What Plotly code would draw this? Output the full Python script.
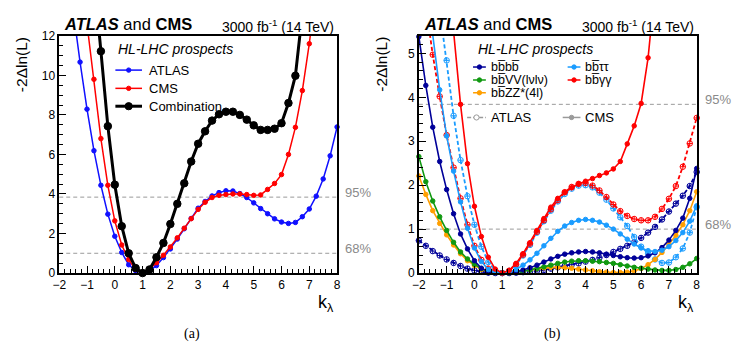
import plotly.graph_objects as go

W, H = 748, 354

K = [-2.0, -1.75, -1.5, -1.25, -1.0, -0.75, -0.5, -0.25, 0.0, 0.25, 0.5, 0.75, 1.0,
     1.25, 1.5, 1.75, 2.0, 2.25, 2.5, 2.75, 3.0, 3.25, 3.5, 3.75, 4.0, 4.25, 4.5,
     4.75, 5.0, 5.25, 5.5, 5.75, 6.0, 6.25, 6.5, 6.75, 7.0, 7.25, 7.5, 7.75, 8.0]

# panel (a): combined likelihood scans
ATLAS = [20.5, 16.6, 13.3, 10.67, 8.29, 6.19, 4.44, 2.98, 1.86, 1.04, 0.42, 0.12, 0.0,
         0.1, 0.38, 0.78, 1.22, 1.72, 2.24, 2.76, 3.28, 3.62, 3.9, 4.07, 4.16, 4.15, 4.02,
         3.82, 3.55, 3.26, 3.0, 2.74, 2.58, 2.51, 2.56, 2.85, 3.24, 3.89, 4.76, 5.93, 7.39]
CMS = [27.0, 23.0, 19.3, 15.8, 12.6, 9.8, 6.8, 4.44, 2.64, 1.42, 0.68, 0.18, 0.0,
       0.2, 0.52, 0.9, 1.32, 1.78, 2.27, 2.75, 3.22, 3.58, 3.82, 3.93, 3.97, 4.0, 4.0,
       3.97, 3.93, 3.95, 4.23, 4.53, 4.98, 6.0, 7.37, 9.23, 11.6, 14.2, 17.0, 20.0, 23.2]
COMBINATION = [34.0, 30.0, 26.0, 22.5, 19.0, 15.0, 11.22, 7.43, 4.47, 2.37, 1.0, 0.25, 0.0,
               0.18, 0.8, 1.52, 2.48, 3.5, 4.54, 5.64, 6.54, 7.17, 7.71, 8.03, 8.16, 8.16, 8.0,
               7.76, 7.47, 7.24, 7.24, 7.3, 7.58, 8.6, 9.98, 12.6, 15.5, 18.6, 22.0, 25.5, 29.0]

# panel (b): per-channel scans
CMS_4B = [5.38, 4.27, 3.32, 2.54, 1.9, 1.35, 0.89, 0.55, 0.28, 0.11, 0.03, 0.005, 0.0,
          0.01, 0.03, 0.07, 0.12, 0.18, 0.25, 0.32, 0.38, 0.43, 0.46, 0.48, 0.49, 0.48, 0.46,
          0.43, 0.4, 0.37, 0.35, 0.34, 0.35, 0.39, 0.46, 0.58, 0.75, 0.97, 1.25, 1.7, 2.38]
ATLAS_4B = [0.74, 0.62, 0.5, 0.4, 0.31, 0.23, 0.16, 0.1, 0.06, 0.03, 0.01, 0.0, 0.0,
            0.0, 0.01, 0.02, 0.03, 0.05, 0.07, 0.1, 0.13, 0.16, 0.19, 0.22, 0.26, 0.3, 0.35,
            0.41, 0.48, 0.55, 0.62, 0.7, 0.8, 0.92, 1.05, 1.22, 1.4, 1.58, 1.76, 1.98, 2.3]
CMS_TT = [7.9, 6.6, 5.42, 4.17, 3.12, 2.32, 1.62, 1.02, 0.57, 0.26, 0.08, 0.01, 0.0,
          0.02, 0.08, 0.18, 0.3, 0.45, 0.62, 0.79, 0.95, 1.07, 1.15, 1.2, 1.22, 1.2, 1.16,
          1.09, 1.0, 0.89, 0.77, 0.66, 0.57, 0.51, 0.49, 0.52, 0.6, 0.74, 0.92, 1.18, 1.53]
ATLAS_TT = [10.5, 8.8, 7.3, 6.0, 4.84, 3.58, 2.57, 1.75, 1.1, 0.6, 0.25, 0.06, 0.0,
            0.05, 0.18, 0.4, 0.64, 0.92, 1.18, 1.42, 1.63, 1.8, 1.92, 1.99, 2.0, 1.95, 1.83,
            1.67, 1.47, 1.27, 1.07, 0.82, 0.6, 0.45, 0.31, 0.23, 0.24, 0.36, 0.56, 0.92, 1.5]
CMS_VV = [2.65, 2.08, 1.64, 1.28, 0.97, 0.7, 0.48, 0.32, 0.2, 0.1, 0.04, 0.01, 0.0,
          0.005, 0.02, 0.04, 0.07, 0.1, 0.14, 0.18, 0.22, 0.25, 0.27, 0.28, 0.28, 0.27, 0.26,
          0.24, 0.22, 0.19, 0.16, 0.13, 0.11, 0.09, 0.07, 0.06, 0.06, 0.08, 0.13, 0.21, 0.33]
CMS_ZZ = [2.21, 1.79, 1.42, 1.13, 0.87, 0.64, 0.44, 0.28, 0.17, 0.08, 0.03, 0.01, 0.0,
          0.01, 0.03, 0.05, 0.08, 0.1, 0.12, 0.13, 0.13, 0.12, 0.11, 0.09, 0.07, 0.05, 0.03,
          0.02, 0.01, 0.01, 0.02, 0.05, 0.1, 0.19, 0.31, 0.47, 0.65, 0.86, 1.1, 1.42, 1.85]
CMS_GG = [14.0, 12.4, 10.8, 9.2, 7.4, 5.5, 3.84, 2.49, 1.52, 0.83, 0.36, 0.09, 0.0,
          0.06, 0.22, 0.44, 0.69, 0.97, 1.24, 1.5, 1.7, 1.84, 1.94, 2.03, 2.09, 2.15, 2.22,
          2.28, 2.37, 2.54, 2.94, 3.35, 3.86, 4.9, 6.5, 8.5, 11.0, 14.0, 17.5, 21.0, 25.0]
ATLAS_GG = [7.2, 6.05, 4.97, 4.02, 3.14, 2.4, 1.7, 1.1, 0.62, 0.3, 0.1, 0.02, 0.0,
            0.05, 0.2, 0.42, 0.67, 0.94, 1.2, 1.45, 1.66, 1.84, 1.96, 2.03, 2.05, 1.99, 1.88,
            1.73, 1.56, 1.41, 1.3, 1.23, 1.2, 1.2, 1.28, 1.46, 1.69, 1.98, 2.42, 2.95, 3.53]

CL_LEVELS = [3.84, 1.0]
CL_LABELS = ["95%", "68%"]

YMAX_A, YMAX_B = 12, 5.4

FONT = "Liberation Sans, Arial, Helvetica, sans-serif"
BLUE, RED, BLACK = "#1010ff", "#ff0000", "#000000"
NAVY, SKY, GREEN, ORANGE = "#000099", "#1a9cff", "#119911", "#ff9f00"
GREY = "#9a9a9a"
SHORT_DASH = "4px,2.5px"


def px(x):
    return x / W


def py(y):
    return 1 - y / H


fig = go.Figure()


def add_scan(y, color, ymax, xa, ya, width=1.5, dash="solid", symbol="circle", size=4.5):
    # line through every point (clipped by the axes), markers only where in range
    fig.add_trace(go.Scatter(x=K, y=y, mode="lines", xaxis=xa, yaxis=ya, showlegend=False,
                             line=dict(color=color, width=width, dash=dash), hoverinfo="skip"))
    shown = [v if v <= ymax else None for v in y]
    fig.add_trace(go.Scatter(x=K, y=shown, mode="markers", xaxis=xa, yaxis=ya, showlegend=False,
                             cliponaxis=False, hoverinfo="skip",
                             marker=dict(color=color, size=size, symbol=symbol,
                                         line=dict(color=color, width=1))))


add_scan(ATLAS, BLUE, YMAX_A, "x", "y")
add_scan(CMS, RED, YMAX_A, "x", "y")
add_scan(COMBINATION, BLACK, YMAX_A, "x", "y", width=3, size=7.5)

for series, color in ((ATLAS_4B, NAVY), (ATLAS_TT, SKY), (ATLAS_GG, RED)):
    add_scan(series, color, YMAX_B, "x2", "y2", width=1.8, dash=SHORT_DASH,
             symbol="circle-cross-open", size=5.5)
for series, color in ((CMS_ZZ, ORANGE), (CMS_VV, GREEN), (CMS_4B, NAVY), (CMS_TT, SKY), (CMS_GG, RED)):
    add_scan(series, color, YMAX_B, "x2", "y2", width=1.6, size=4.5)

axis_common = dict(showline=True, linecolor="black", linewidth=1.5, mirror=True,
                   showgrid=False, zeroline=False, ticks="inside", ticklen=7,
                   tickcolor="black", tickwidth=1, tickfont=dict(size=12, color="black"))
x_common = dict(axis_common, range=[-2, 8], dtick=1, tick0=-2,
                minor=dict(dtick=0.2, ticks="inside", ticklen=4, tickcolor="black"))

Y0, Y1 = py(277), py(30)
fig.update_layout(
    width=W, height=H,
    paper_bgcolor="white", plot_bgcolor="white",
    margin=dict(l=0, r=0, t=0, b=0),
    font=dict(family=FONT, color="black", size=12),
    showlegend=False,
    xaxis=dict(x_common, domain=[px(53), px(335)], anchor="y"),
    yaxis=dict(axis_common, domain=[Y0, Y1], range=[0, YMAX_A], dtick=2, anchor="x",
               minor=dict(dtick=0.5, ticks="inside", ticklen=4, tickcolor="black")),
    xaxis2=dict(x_common, domain=[px(418), px(700)], anchor="y2"),
    yaxis2=dict(axis_common, domain=[Y0, Y1], range=[0, YMAX_B], dtick=1, anchor="x2",
                minor=dict(dtick=0.2, ticks="inside", ticklen=4, tickcolor="black")),
)

# confidence-level reference lines
for xd, yr, lab_x in (("x domain", "y", 341), ("x2 domain", "y2", 706)):
    for lvl, lab in zip(CL_LEVELS, CL_LABELS):
        fig.add_shape(type="line", xref=xd, yref=yr, x0=0, x1=1, y0=lvl, y1=lvl,
                      line=dict(color=GREY, width=1, dash="4px,3px"), layer="below")
        fig.add_annotation(text=lab, xref="paper", yref=yr, x=px(lab_x), y=lvl, yshift=5,
                           xanchor="left", yanchor="middle", showarrow=False,
                           font=dict(size=13, color="#8a8a8a"))


def text(s, x, y, size=13, anchor="left", angle=0, yanchor="middle", family=FONT):
    fig.add_annotation(text=s, xref="paper", yref="paper", x=px(x), y=py(y), xanchor=anchor,
                       yanchor=yanchor, textangle=angle, showarrow=False,
                       font=dict(size=size, family=family, color="black"))


def entry(x0, x1, y, color, label, tx, width=1.5, dash="solid", r=2.2, filled=True, size=13):
    fig.add_shape(type="line", xref="paper", yref="paper", x0=px(x0), x1=px(x1),
                  y0=py(y), y1=py(y), line=dict(color=color, width=width, dash=dash))
    fig.add_shape(type="circle", xref="paper", yref="paper", xsizemode="pixel", ysizemode="pixel",
                  xanchor=px((x0 + x1) / 2), yanchor=py(y), x0=-r, x1=r, y0=-r, y1=r,
                  fillcolor=color if filled else "white", line=dict(color=color, width=1))
    text(label, tx, y, size=size)


for off in (0, 365):
    text("<b><i>ATLAS</i></b> and <b>CMS</b>", 56 + off, 17.5, size=16.5)
    text("3000 fb<sup>-1</sup> (14 TeV)", 334 + off, 19.5, size=14, anchor="right")
    text("-2Δln(L)", 15 + off, 29, size=15.5, angle=-90, anchor="center", yanchor="top")
    text("k<sub>λ</sub>", 334 + off, 309, size=18, anchor="right")
    text("<i>HL-LHC prospects</i>", 111 + off, 43.5, size=14)

text("(a)", 188, 340, size=14, anchor="center", family="Liberation Serif, Times New Roman, serif")
text("(b)", 554, 340, size=14, anchor="center", family="Liberation Serif, Times New Roman, serif")

# legend (a)
entry(110, 137, 65.7, BLUE, "ATLAS", 142.5)
entry(110, 137, 84.7, RED, "CMS", 142.5)
entry(110, 137, 103.3, BLACK, "Combination", 142.5, width=3, r=3.6)

# legend (b)
OB = "b\u0305"
entry(473, 486, 62.5, NAVY, "b" + OB + "b" + OB, 489, size=12.5)
entry(473, 486, 76, GREEN, "b" + OB + "VV(lνlν)", 489, size=12.5)
entry(473, 486, 89.3, ORANGE, "b" + OB + "ZZ*(4l)", 489, size=12.5)
entry(569, 582, 62.5, SKY, "b" + OB + "ττ", 584.5, size=12.5)
entry(569, 582, 76, RED, "b" + OB + "γγ", 584.5, size=12.5)
entry(467, 486, 115, GREY, "ATLAS", 489, dash="4px,2px", r=2.6, filled=False)
entry(564, 582, 115, GREY, "CMS", 584.5)

fig.write_html("out.html", config={"displayModeBar": False},
               post_script="document.body.style.margin='0px';")
